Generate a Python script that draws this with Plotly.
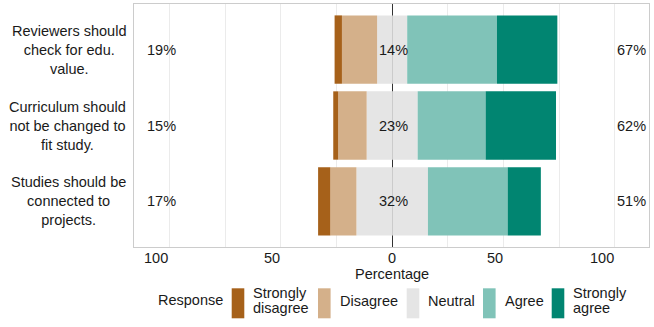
import plotly.graph_objects as go

# likert items, top to bottom
items = ["Reviewers should<br>check for edu.<br>value.",
         "Curriculum should<br>not be changed to<br>fit study.",
         "Studies should be<br>connected to<br>projects."]

responses = ["Strongly\ndisagree", "Disagree", "Neutral", "Agree", "Strongly\nagree"]

# percentages per response level
strongly_disagree = [3.3, 2.2, 5.5]
disagree = [15.8, 12.8, 11.7]
neutral = [13.5, 22.9, 32.1]
agree = [40.3, 30.5, 35.8]
strongly_agree = [27.1, 31.6, 14.9]

low_labels = ["19%", "15%", "17%"]
neutral_labels = ["14%", "23%", "32%"]
high_labels = ["67%", "62%", "51%"]

tick_vals = [-100, -50, 0, 50, 100]
tick_text = ["100", "50", "0", "50", "100"]

colors = ["#A6611A", "#D4B08A", "#E5E5E5", "#80C3B8", "#018571"]

FONT = "Liberation Sans, Arial, Helvetica, sans-serif"
TXT = "#1A1A1A"
FS = 14.5

fig = go.Figure()

# relative stacking: neutral split around zero, disagree to the left, agree to the right
def add(vals, col, neg=False):
    fig.add_trace(go.Bar(
        y=items, x=[-v if neg else v for v in vals], orientation="h",
        marker=dict(color=col, line=dict(width=0)), width=0.9,
        showlegend=False, hoverinfo="skip"))

add([v / 2 for v in neutral], colors[2], neg=True)
add([v / 2 for v in neutral], colors[2])
add(disagree, colors[1], neg=True)
add(agree, colors[3])
add(strongly_disagree, colors[0], neg=True)
add(strongly_agree, colors[4])

ann = []
for i, it in enumerate(items):
    # item text on the left, centered lines
    ann.append(dict(xref="paper", yref="y", x=0, y=it, xanchor="right", xshift=-6,
                    text=it, align="center", showarrow=False,
                    font=dict(family=FONT, size=FS, color=TXT)))
    ann.append(dict(xref="x", yref="y", x=-111, y=it, xanchor="left",
                    text=low_labels[i], showarrow=False,
                    font=dict(family=FONT, size=FS, color=TXT)))
    ann.append(dict(xref="x", yref="y", x=115, y=it, xanchor="right",
                    text=high_labels[i], showarrow=False,
                    font=dict(family=FONT, size=FS, color=TXT)))
    ann.append(dict(xref="x", yref="y", x=0.8, y=it, xanchor="center",
                    text=neutral_labels[i], showarrow=False,
                    font=dict(family=FONT, size=FS, color=TXT)))

# tick labels (right aligned on their grid line, zero centred)
for v, t in zip(tick_vals, tick_text):
    ann.append(dict(xref="x", yref="paper", x=v, y=0, yanchor="middle", yshift=-11,
                    xanchor="center" if v == 0 else "right", xshift=0 if v == 0 else 1,
                    text=t, showarrow=False,
                    font=dict(family=FONT, size=FS, color=TXT)))

ann.append(dict(xref="paper", yref="paper", x=0.5, y=0, yanchor="middle", yshift=-26.5,
                text="Percentage", showarrow=False,
                font=dict(family=FONT, size=FS, color=TXT)))

# manual legend (tall swatches like ggplot)
L, W, B, H = 134, 515, 247, 243
px = lambda p: (p - L) / W
py = lambda p: (B - p) / H
sw_x = [231.7, 318, 406.7, 483, 551.7]
shapes = []
ann.append(dict(xref="paper", yref="paper", x=px(156), y=py(300), xanchor="left",
                yanchor="middle", text="Response", showarrow=False,
                font=dict(family=FONT, size=FS, color=TXT)))
for x0, lab, col in zip(sw_x, responses, colors):
    shapes.append(dict(type="rect", xref="paper", yref="paper",
                       x0=px(x0), x1=px(x0 + 12.6), y0=py(318.3), y1=py(288.3),
                       fillcolor=col, line=dict(width=0)))
    lines = lab.split("\n")
    offs = [0] if len(lines) == 1 else [-7.8, 7.8]
    for ln, o in zip(lines, offs):
        ann.append(dict(xref="paper", yref="paper", x=px(x0 + 19.5), y=py(300.5 + o),
                        xanchor="left", yanchor="middle", text=ln, showarrow=False,
                        font=dict(family=FONT, size=FS, color=TXT)))

fig.update_layout(
    barmode="relative",
    width=654, height=327,
    margin=dict(l=L, r=654 - L - W, t=4, b=327 - B),
    plot_bgcolor="white", paper_bgcolor="white",
    annotations=ann, shapes=shapes,
    font=dict(family=FONT, size=FS, color=TXT),
)
fig.update_xaxes(range=[-115.9, 115.3], tickvals=[-100, -75, -50, -25, 0, 25, 50, 75, 100],
                 showticklabels=False, ticks="", showgrid=True, gridcolor="#EBEBEB", gridwidth=1,
                 zeroline=True, zerolinecolor="#333333", zerolinewidth=1,
                 showline=True, mirror=True, linecolor="#CCCCCC", linewidth=1)
fig.update_yaxes(type="category", categoryorder="array", categoryarray=items[::-1],
                 range=[-0.6, 2.6], showticklabels=False, ticks="", showgrid=False,
                 showline=True, mirror=True, linecolor="#CCCCCC", linewidth=1)

# drop the default page margin so the figure sits at the window's corner
fig.write_html("out.html", config={"displayModeBar": False},
               post_script="document.body.style.margin='0';")
